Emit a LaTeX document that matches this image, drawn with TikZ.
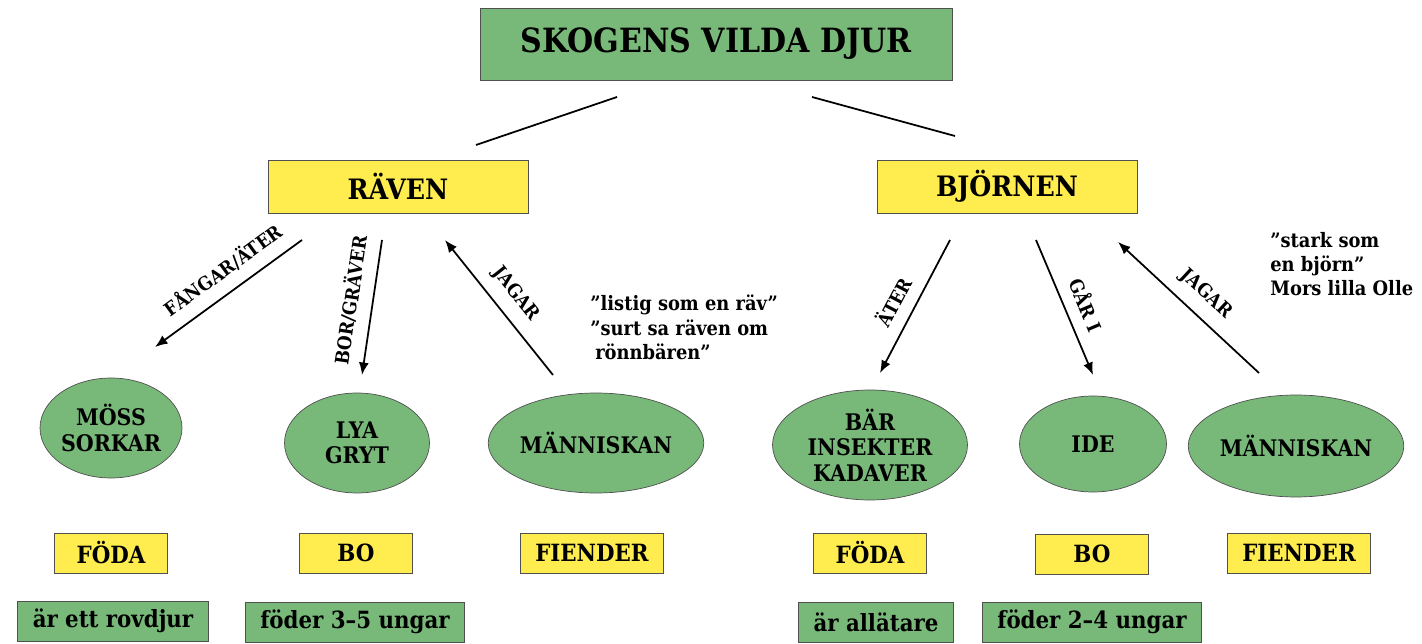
\documentclass[tikz,border=0pt]{standalone}
\usepackage{fontspec}
\setmainfont{DejaVu Serif Condensed}
\usetikzlibrary{shapes.geometric}
\usetikzlibrary{arrows.meta}
\definecolor{boxgreen}{RGB}{120,185,122}
\definecolor{boxyellow}{RGB}{255,237,80}
\definecolor{edgegray}{RGB}{80,80,80}

\begin{document}
\begin{tikzpicture}[x = 0.02cm, y = -0.02cm,
title/.style = {draw = edgegray, fill = boxgreen, minimum width = 9.44cm, minimum height = 1.44cm, font = \bfseries\fontsize{19}{22}\selectfont},
animal/.style = {draw = edgegray, fill = boxyellow, minimum width = 5.2cm, minimum height = 1.06cm, font = \bfseries\fontsize{16}{19}\selectfont},
thing/.style = {ellipse, draw = edgegray, fill = boxgreen, minimum height = 2cm, align = center, inner sep = 0pt, font = \bfseries\fontsize{13}{14.5}\selectfont},
heading/.style = {draw = edgegray, fill = boxyellow, minimum width = 2.26cm, minimum height = 0.8cm, inner xsep = 0.3cm, font = \bfseries\fontsize{13.5}{15}\selectfont},
fact/.style = {draw = edgegray, fill = boxgreen, minimum height = 0.8cm, inner xsep = 0.3cm, font = \bfseries\fontsize{13.5}{15}\selectfont},
link/.style = {-{Latex[length = 0.25cm, width = 0.2cm]}, line width = 1pt},
verb/.style = {sloped, above = 3.5pt, font = \bfseries\fontsize{10.7}{12}\selectfont},
saying/.style = {anchor = north west, align = left, inner sep = 0pt, font = \bfseries\fontsize{11.3}{13.8}\selectfont}]

\useasboundingbox (0, 0) rectangle (1422, 644);

\node[title] (skog) at (716, 44) {SKOGENS VILDA DJUR};
\node[animal] (raven) at (398, 186.5) {RÄVEN};
\node[animal] (bjornen) at (1007, 186.5) {BJÖRNEN};

% raven
\node[thing, minimum width = 2.84cm] (moss) at (111, 428) {MÖSS\\SORKAR};
\node[thing, minimum width = 2.9cm] (lya) at (357, 443) {LYA\\GRYT};
\node[thing, minimum width = 4.14cm] (manniskan r) at (596, 443) {MÄNNISKAN};
\node[heading] (foda r) at (111, 553) {FÖDA};
\node[heading] (bo r) at (356, 553) {BO};
\node[heading] (fiender r) at (592, 553) {FIENDER};
\node[fact] (rovdjur) at (113, 621) {är ett rovdjur};
\node[fact] (ungar r) at (355, 622) {föder 3–5 ungar};
\node[saying] (listig) at (590, 295) {”listig som en räv”\\”surt sa räven om\\\hspace{0.25em}rönnbären”};

% bjornen
\node[thing, minimum width = 3.9cm, minimum height = 2.2cm] (bar) at (870, 445) {BÄR\\INSEKTER\\KADAVER};
\node[thing, minimum width = 2.94cm, minimum height = 1.92cm] (ide) at (1093, 444) {IDE};
\node[thing, minimum width = 3.84cm, minimum height = 2.04cm] (manniskan b) at (1296, 446) {MÄNNISKAN};
\node[heading] (foda b) at (870, 553) {FÖDA};
\node[heading] (bo b) at (1092, 554) {BO};
\node[heading] (fiender b) at (1299, 553) {FIENDER};
\node[fact] (allatare) at (876, 622) {är allätare};
\node[fact] (ungar b) at (1092, 622) {föder 2–4 ungar};
\node[saying] (stark) at (1270, 232) {”stark som\\en björn”\\Mors lilla Olle};

\coordinate (skog l) at (617, 97);
\coordinate (raven t) at (476, 145);
\coordinate (skog r) at (812, 97);
\coordinate (bjornen t) at (955, 136);
\draw[line width = 1pt] (skog l) -- (raven t);
\draw[line width = 1pt] (skog r) -- (bjornen t);

\coordinate (raven a) at (302, 240);
\coordinate (raven b) at (382, 240);
\coordinate (raven c) at (445, 240);
\coordinate (moss t) at (155, 347);
\coordinate (lya t) at (362, 375);
\coordinate (manniskan r t) at (553, 375);
\draw[link] (raven a) -- node[verb, pos = 0.45] {FÅNGAR/ÄTER} (moss t);
\draw[link] (raven b) -- node[verb, pos = 0.47] {BOR/GRÄVER} (lya t);
\draw[link] (manniskan r t) -- node[verb, pos = 0.5] {JAGAR} (raven c);

\coordinate (bjornen a) at (950, 240);
\coordinate (bjornen b) at (1036, 240);
\coordinate (bjornen c) at (1118, 242);
\coordinate (bar t) at (880, 373);
\coordinate (ide t) at (1093, 375);
\coordinate (manniskan b t) at (1259, 373);
\draw[link] (bjornen a) -- node[verb, pos = 0.54] {ÄTER} (bar t);
\draw[link] (bjornen b) -- node[verb, pos = 0.54] {GÅR I} (ide t);
\draw[link] (manniskan b t) -- node[verb, pos = 0.48] {JAGAR} (bjornen c);

\end{tikzpicture}
\end{document}
